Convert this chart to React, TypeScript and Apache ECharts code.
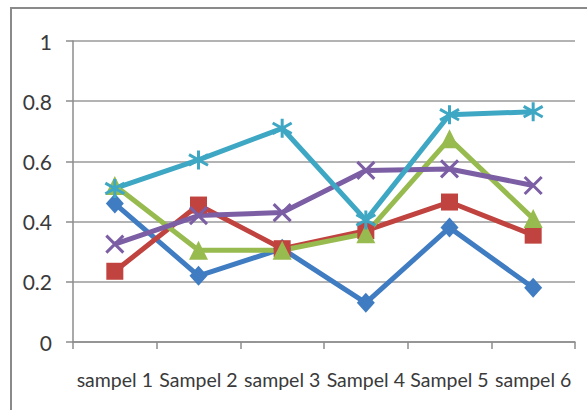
import React, { useEffect, useRef } from "react";
import * as echarts from "echarts";

const categories = ["sampel 1", "Sampel 2", "sampel 3", "Sampel 4", "Sampel 5", "sampel 6"];
const seriesBlue = [0.46, 0.22, 0.31, 0.13, 0.38, 0.18];
const seriesRed = [0.235, 0.455, 0.31, 0.37, 0.465, 0.355];
const seriesGreen = [0.52, 0.305, 0.305, 0.36, 0.675, 0.41];
const seriesPurple = [0.325, 0.42, 0.43, 0.57, 0.575, 0.52];
const seriesCyan = [0.51, 0.605, 0.71, 0.405, 0.755, 0.765];
const yTicks = { min: 0, max: 1, interval: 0.2 };

const FONT = "Lato, 'Noto Sans', sans-serif";

const X_PATH = "path://M0,0 L10,10 M10,0 L0,10";
const STAR_PATH = "path://M5,0 L5,10 M0.5,2.2 L9.5,7.8 M0.5,7.8 L9.5,2.2";

function mkSeries(name: string, data: number[], color: string, symbol: string, size: number | number[], open = false) {
  return {
    name,
    type: "line",
    data,
    symbol,
    symbolSize: size,
    showSymbol: true,
    lineStyle: { color, width: 5 },
    itemStyle: open
      ? { color: "none", borderColor: color, borderWidth: 3 }
      : { color, borderColor: color, borderWidth: 0 },
    emphasis: { disabled: true },
  };
}

export default function App() {
  const ref = useRef<HTMLDivElement>(null);
  useEffect(() => {
    if (!ref.current) return;
    const chart = echarts.init(ref.current, undefined, { renderer: "svg" });
    chart.setOption({
      animation: false,
      backgroundColor: "#ffffff",
      grid: { left: 73, right: 12, top: 41, bottom: 68, containLabel: false },
      xAxis: {
        type: "category",
        data: categories,
        boundaryGap: true,
        axisLine: { show: true, lineStyle: { color: "#8c8c8c", width: 1.5 } },
        axisTick: { show: true, length: 7, alignWithLabel: false, lineStyle: { color: "#8c8c8c", width: 1.5 } },
        axisLabel: { interval: 0, margin: 27, fontSize: 19.5, color: "#3a3a3a", fontFamily: FONT },
        splitLine: { show: false },
      },
      yAxis: {
        type: "value",
        min: yTicks.min,
        max: yTicks.max,
        interval: yTicks.interval,
        axisLine: { show: true, lineStyle: { color: "#8c8c8c", width: 1.5 } },
        axisTick: { show: true, length: 7, lineStyle: { color: "#8c8c8c", width: 1.5 } },
        axisLabel: { margin: 21, fontSize: 21, color: "#3a3a3a", fontFamily: FONT },
        splitLine: { show: true, lineStyle: { color: "#9a9a9a", width: 1.5 } },
      },
      graphic: [
        { type: "line", shape: { x1: 11, y1: 8, x2: 11, y2: 410 }, style: { stroke: "#8a8a8a", lineWidth: 2 } },
        { type: "line", shape: { x1: 10, y1: 8, x2: 587, y2: 8 }, style: { stroke: "#8a8a8a", lineWidth: 2 } },
      ],
      series: [
        mkSeries("s1", seriesBlue, "#3f7cc2", "diamond", [18, 20]),
        mkSeries("s2", seriesRed, "#c0433f", "rect", 17),
        mkSeries("s3", seriesGreen, "#98bb4f", "triangle", 19),
        mkSeries("s4", seriesPurple, "#7b5ea4", X_PATH, 17, true),
        mkSeries("s5", seriesCyan, "#3ea7c4", STAR_PATH, 19, true),
      ],
    });
    return () => chart.dispose();
  }, []);
  return <div ref={ref} style={{ position: "fixed", left: 0, top: 0, width: 587, height: 410 }} />;
}
